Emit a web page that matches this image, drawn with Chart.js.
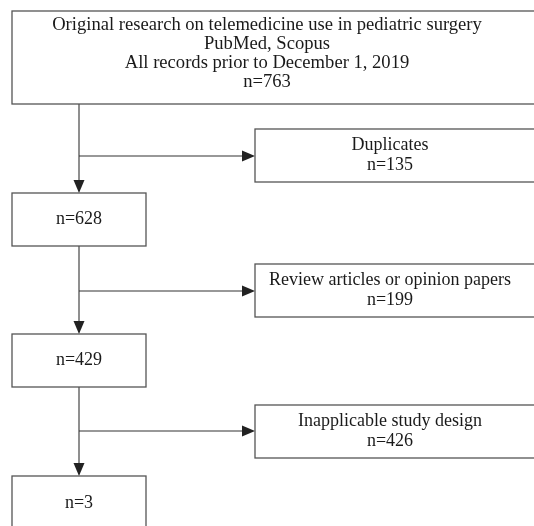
<!DOCTYPE html>
<html>
<head>
<meta charset="utf-8">
<script src="https://cdn.jsdelivr.net/npm/chart.js@4"></script>
<style>
  html, body { margin: 0; padding: 0; background: #fff; }
  #wrap { width: 534px; height: 526px; position: relative; }
</style>
</head>
<body>
<div id="wrap"><canvas id="flow"></canvas></div>
<script>
// flow data
const sourceLines = ['Original research on telemedicine use in pediatric surgery', 'PubMed, Scopus', 'All records prior to December 1, 2019'];
const stageCounts = [763, 628, 429, 3];
const excludedLabels = ['Duplicates', 'Review articles or opinion papers', 'Inapplicable study design'];
const excludedCounts = [135, 199, 426];

// layout in page units (x: 0..534, y: 0..526 top-down)
const trunkX = 79;
const mainBoxes = [
    { x0: 12, x1: 545, y0: 11, y1: 104, tx: 267, ty: 53.5, size: 18.6, lh: 19 },
    { x0: 12, x1: 146, y0: 193, y1: 246, tx: 79 },
    { x0: 12, x1: 146, y0: 334, y1: 387, tx: 79 },
    { x0: 12, x1: 146, y0: 476, y1: 531, tx: 79, ty: 503 }
];
const sideBoxes = [
    { x0: 255, x1: 545, y0: 129, y1: 182, tx: 390 },
    { x0: 255, x1: 545, y0: 264, y1: 317, tx: 390 },
    { x0: 255, x1: 545, y0: 405, y1: 458, tx: 390 }
];
const branchY = [156, 291, 431];

const LINE_H = 19.5;

const drawBox = (ctx, xs, ys, b, lines) => {
    let left = xs.getPixelForValue(b.x0);
    let right = xs.getPixelForValue(b.x1);
    let top = ys.getPixelForValue(b.y0);
    let bottom = ys.getPixelForValue(b.y1);
    ctx.strokeStyle = '#555';
    ctx.lineWidth = 1.3;
    ctx.strokeRect(left, top, right - left, bottom - top);
    ctx.fillStyle = '#1a1a1a';
    ctx.font = (b.size || 18) + 'px "Liberation Serif", "Times New Roman", serif';
    ctx.textAlign = 'center';
    ctx.textBaseline = 'middle';
    let lh = b.lh || LINE_H;
    let cx = xs.getPixelForValue(b.tx);
    let cy = b.ty !== undefined ? ys.getPixelForValue(b.ty) : (top + bottom) / 2;
    let start = cy - (lines.length - 1) * lh / 2;
    lines.forEach((t, i) => ctx.fillText(t, cx, start + i * lh));
};

const arrow = (ctx, x1, y1, x2, y2) => {
    ctx.strokeStyle = '#333';
    ctx.fillStyle = '#222';
    ctx.lineWidth = 1.1;
    let ang = Math.atan2(y2 - y1, x2 - x1);
    let len = 13, half = 5.5;
    let bx = x2 - len * Math.cos(ang), by = y2 - len * Math.sin(ang);
    ctx.beginPath();
    ctx.moveTo(x1, y1);
    ctx.lineTo(bx, by);
    ctx.stroke();
    ctx.beginPath();
    ctx.moveTo(x2, y2);
    ctx.lineTo(bx + half * Math.sin(ang), by - half * Math.cos(ang));
    ctx.lineTo(bx - half * Math.sin(ang), by + half * Math.cos(ang));
    ctx.closePath();
    ctx.fill();
};

const flowPlugin = {
    id: 'flow',
    afterDraw(chart) {
        const ctx = chart.ctx;
        const xs = chart.scales.x, ys = chart.scales.y;
        ctx.save();
        // connectors
        for (let i = 0; i < excludedCounts.length; i++) {
            let tx = xs.getPixelForValue(trunkX);
            let yFrom = ys.getPixelForValue(mainBoxes[i].y1);
            let yTo = ys.getPixelForValue(mainBoxes[i + 1].y0);
            let yb = ys.getPixelForValue(branchY[i]);
            arrow(ctx, tx, yFrom, tx, yTo);
            arrow(ctx, tx, yb, xs.getPixelForValue(sideBoxes[i].x0), yb);
        }
        // boxes
        mainBoxes.forEach((b, i) => {
            let lines = i === 0 ? sourceLines.concat(['n=' + stageCounts[0]]) : ['n=' + stageCounts[i]];
            drawBox(ctx, xs, ys, b, lines);
        });
        sideBoxes.forEach((b, i) => {
            drawBox(ctx, xs, ys, b, [excludedLabels[i], 'n=' + excludedCounts[i]]);
        });
        ctx.restore();
    }
};

document.addEventListener('DOMContentLoaded', () => {
    new Chart(document.getElementById('flow').getContext('2d'), {
        type: 'scatter',
        data: {
            datasets: [{
                data: mainBoxes.map((b, i) => ({ x: b.tx, y: (b.y0 + b.y1) / 2, n: stageCounts[i] })),
                pointRadius: 0
            }]
        },
        options: {
            responsive: true,
            maintainAspectRatio: false,
            animation: false,
            layout: { padding: 0 },
            plugins: { legend: { display: false }, tooltip: { enabled: false } },
            scales: {
                x: { type: 'linear', min: 0, max: 534, display: false },
                y: { type: 'linear', min: 0, max: 526, reverse: true, display: false }
            }
        },
        plugins: [flowPlugin]
    });
});
</script>
</body>
</html>
